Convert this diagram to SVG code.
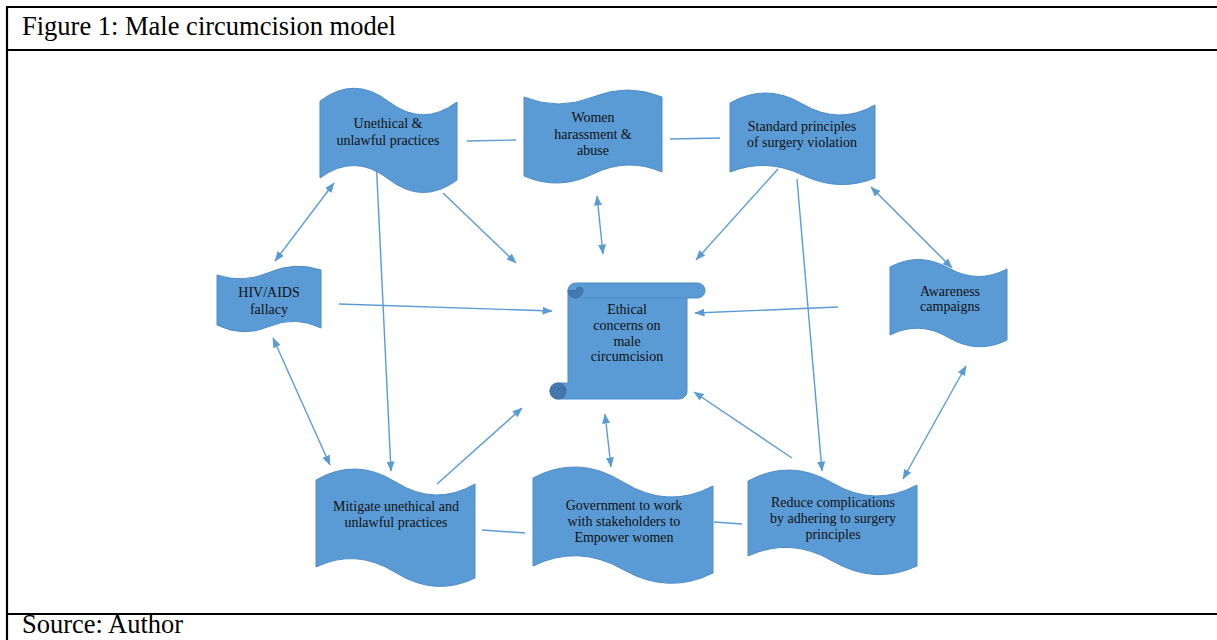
<svg xmlns="http://www.w3.org/2000/svg" width="1217" height="640" viewBox="0 0 1217 640">
<style>
.frame{stroke:#000;stroke-width:2.2;fill:none}
.cap{font-family:"Liberation Serif","Times New Roman",serif;font-size:26.5px;fill:#000}
.node{fill:#5b9bd5;stroke:#4d8cc8;stroke-width:1}
.lbl{font-family:"Liberation Serif","Times New Roman",serif;font-size:14px;fill:#111;text-anchor:middle}
.con{stroke:#5b9bd5;stroke-width:1.4;fill:none}
.dark{fill:#4479b0;stroke:#3f70a3;stroke-width:1}
</style>
<defs>
<marker id="ah" viewBox="0 0 10 8" refX="9.5" refY="4" markerWidth="10" markerHeight="8" markerUnits="userSpaceOnUse" orient="auto-start-reverse">
<path d="M0,0 L10,4 L0,8 Z" fill="#5b9bd5"/>
</marker>
</defs>
<rect width="1217" height="640" fill="#fff"/>
<g id="frame">
<line class="frame" x1="6" y1="7" x2="1217" y2="7"/>
<line class="frame" x1="7" y1="6" x2="7" y2="640"/>
<line class="frame" x1="6" y1="50" x2="1217" y2="50"/>
<line class="frame" x1="6" y1="614" x2="1217" y2="614"/>
<text class="cap" x="22" y="35">Figure 1: Male circumcision model</text>
<text class="cap" x="22" y="633">Source: Author</text>
</g>
<g id="connectors">
<line class="con" x1="467" y1="141" x2="516" y2="140"/>
<line class="con" x1="670" y1="139" x2="720" y2="138"/>
<line class="con" x1="482" y1="530" x2="525" y2="533"/>
<line class="con" x1="714" y1="522" x2="742" y2="524"/>
<line class="con" x1="275" y1="261" x2="334" y2="183" marker-start="url(#ah)" marker-end="url(#ah)"/>
<line class="con" x1="376" y1="157" x2="391" y2="471" marker-end="url(#ah)"/>
<line class="con" x1="443" y1="193" x2="516" y2="263" marker-end="url(#ah)"/>
<line class="con" x1="597" y1="196" x2="603" y2="254" marker-start="url(#ah)" marker-end="url(#ah)"/>
<line class="con" x1="778" y1="169" x2="696" y2="260" marker-end="url(#ah)"/>
<line class="con" x1="797" y1="179" x2="822" y2="471" marker-end="url(#ah)"/>
<line class="con" x1="871" y1="187" x2="952" y2="268" marker-start="url(#ah)" marker-end="url(#ah)"/>
<line class="con" x1="339" y1="304" x2="552" y2="311" marker-end="url(#ah)"/>
<line class="con" x1="838" y1="307" x2="695" y2="313" marker-end="url(#ah)"/>
<line class="con" x1="273" y1="338" x2="330" y2="465" marker-start="url(#ah)" marker-end="url(#ah)"/>
<line class="con" x1="437" y1="484" x2="522" y2="408" marker-end="url(#ah)"/>
<line class="con" x1="605" y1="414" x2="611" y2="467" marker-start="url(#ah)" marker-end="url(#ah)"/>
<line class="con" x1="792" y1="458" x2="694" y2="392" marker-end="url(#ah)"/>
<line class="con" x1="966" y1="366" x2="903" y2="479" marker-start="url(#ah)" marker-end="url(#ah)"/>
</g>
<g id="n-unethical">
<path class="node" d="M320,101 Q354.25,75.25 388.5,101.5 T457,102 L457,180 Q422.75,205.5 388.5,179 T320,178 Z"/>
<text class="lbl" x="388" y="128">Unethical &amp;</text>
<text class="lbl" x="388" y="145">unlawful practices</text>
</g>
<g id="n-women">
<path class="node" d="M524,97 Q558.5,111 593,97 T662,97 L662,172 Q627.5,157 593,174 T524,176 Z"/>
<text class="lbl" x="593" y="122">Women</text>
<text class="lbl" x="593" y="139">harassment &amp;</text>
<text class="lbl" x="593" y="155">abuse</text>
</g>
<g id="n-standard">
<path class="node" d="M730,103 Q766.25,82.5 802.5,104 T875,105 L875,178 Q838.75,192.5 802.5,175 T730,172 Z"/>
<text class="lbl" x="802" y="131">Standard principles</text>
<text class="lbl" x="802" y="147">of surgery violation</text>
</g>
<g id="n-hiv">
<path class="node" d="M217,275 Q243,283.75 269,272.5 T321,270 L321,328 Q295,315.25 269,326.5 T217,325 Z"/>
<text class="lbl" x="269" y="297">HIV/AIDS</text>
<text class="lbl" x="269" y="314">fallacy</text>
</g>
<g id="n-awareness">
<path class="node" d="M890,267 Q919.25,251.5 948.5,268 T1007,269 L1007,340 Q977.75,354.75 948.5,337.5 T890,335 Z"/>
<text class="lbl" x="950" y="296">Awareness</text>
<text class="lbl" x="950" y="311">campaigns</text>
</g>
<g id="n-ethical">
<path class="node" d="M568,290 H687 V391 A8,8 0 0 1 679,399 H558 A8,8 0 0 1 558,383 H568 Z"/>
<circle class="dark" cx="558" cy="391" r="8"/>
<path d="M558,391 A3.5,3.5 0 0 1 565,391" fill="none" stroke="#35689c" stroke-width="1"/>
<rect class="node" x="568" y="283" width="137" height="15" rx="7.5"/>
<path d="M568,290.5 A7.5,7.5 0 0 0 583,290.5 A3.5,3.5 0 0 0 576,290.5 Z" fill="#4479b0" stroke="#3f70a3" stroke-width="0.8"/>
<text class="lbl" x="627" y="314">Ethical</text>
<text class="lbl" x="627" y="330">concerns on</text>
<text class="lbl" x="627" y="346">male</text>
<text class="lbl" x="627" y="361">circumcision</text>
</g>
<g id="n-mitigate">
<path class="node" d="M316,480 Q355.75,457 395.5,482 T475,484 L475,578 Q435.25,597.25 395.5,572.5 T316,567 Z"/>
<text class="lbl" x="396" y="511">Mitigate unethical and</text>
<text class="lbl" x="396" y="527">unlawful practices</text>
</g>
<g id="n-government">
<path class="node" d="M533,478 Q578,454 623,482 T713,486 L713,573 Q668,595.25 623,569.5 T533,566 Z"/>
<text class="lbl" x="624" y="510">Government to work</text>
<text class="lbl" x="624" y="526">with stakeholders to</text>
<text class="lbl" x="624" y="542">Empower women</text>
</g>
<g id="n-reduce">
<path class="node" d="M748,481 Q790.25,458 832.5,483 T917,485 L917,566 Q874.75,585.5 832.5,561 T748,556 Z"/>
<text class="lbl" x="833" y="507">Reduce complications</text>
<text class="lbl" x="833" y="523">by adhering to surgery</text>
<text class="lbl" x="833" y="539">principles</text>
</g>
</svg>
